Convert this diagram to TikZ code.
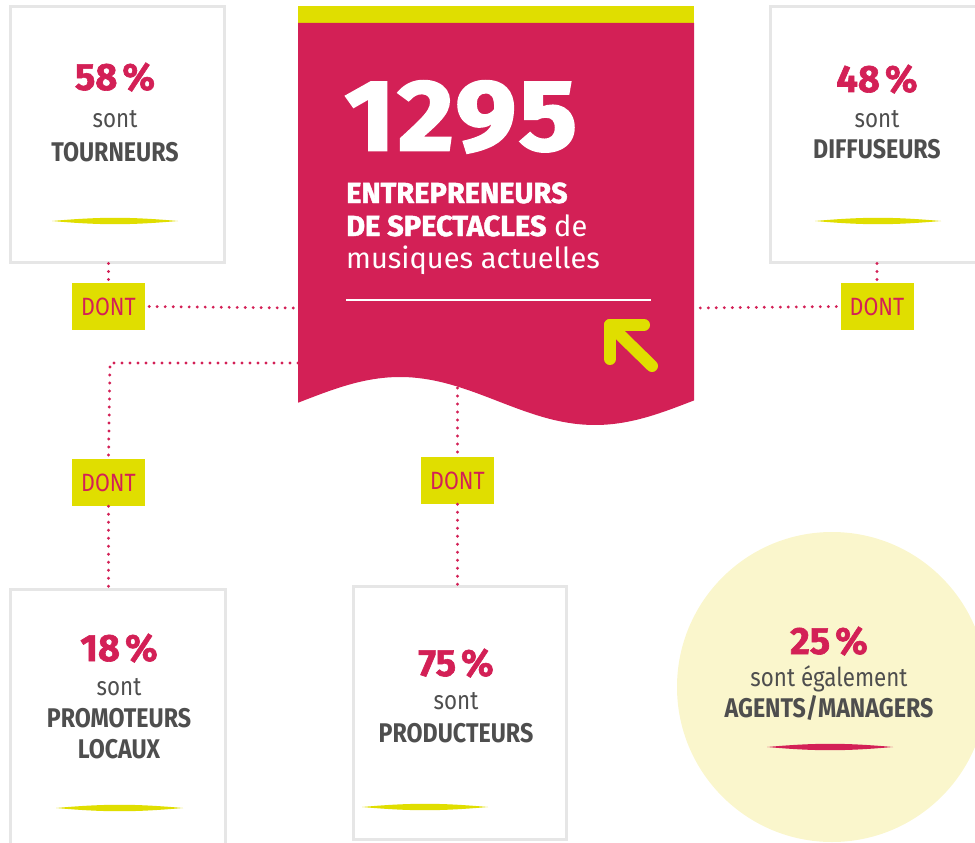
\documentclass[tikz,border=0pt]{standalone}
\usepackage{fontspec}
\setmainfont{Fira Sans}
\newfontfamily\condfont[FakeStretch=0.86]{Fira Sans}
\newfontfamily\heavyfont[FakeBold=1.6]{Fira Sans}
\newfontfamily\bigfont[FakeBold=2.5, FakeStretch=1.08, LetterSpace=3]{Fira Sans}
\usetikzlibrary{positioning}

\definecolor{rouge}{HTML}{D32056}
\definecolor{jaune}{HTML}{E0DE00}
\definecolor{creme}{HTML}{FAF6CC}
\definecolor{gris}{HTML}{4E4E4E}
\definecolor{cadre}{HTML}{E6E6E6}

\begin{document}
\begin{tikzpicture}[x=1pt,y=-1pt,
	statbox/.style={draw=cadre, line width=3pt, fill=white, inner sep=0pt},
	dontbox/.style={fill=jaune, text=rouge, inner sep=0pt, minimum width=73pt, minimum height=47pt,
		font=\condfont\fontsize{25}{25}\selectfont},
	dots/.style={rouge, line width=3.2pt, line cap=round, dash pattern=on 0pt off 8pt},
	pct/.style={anchor=base, text=rouge, font=\heavyfont\bfseries\fontsize{38}{38}\selectfont},
	sont/.style={anchor=base, text=gris, font=\condfont\fontsize{26}{26}\selectfont},
	metier/.style={anchor=base, text=gris, font=\condfont\bfseries\fontsize{27}{27}\selectfont},
	ent/.style={anchor=base west, text=white, inner sep=0pt, font=\fontsize{29}{29}\selectfont}]
	\useasboundingbox (0,0) rectangle (975,843);
	\clip (0,0) rectangle (975,843);

	\node[circle, fill=creme, minimum size=310pt] (agents) at (832,687) {};

	\node[statbox, minimum width=214pt, minimum height=255pt] (tourneurs) at (117,134.5) {};
	\node[statbox, minimum width=220pt, minimum height=255pt] (diffuseurs) at (880,134.5) {};
	\node[statbox, minimum width=215pt, minimum height=311pt] (promoteurs) at (117.5,744.5) {};
	\node[statbox, minimum width=213pt, minimum height=253pt] (producteurs) at (459.5,712.5) {};

	\fill[jaune] (298,6) rectangle (694,23);
	\fill[rouge] (298,23) -- (694,23) -- plot[domain=694:298, samples=80] (\x,{401-24*cos((\x-400)/195*180)}) -- cycle;
	\coordinate (banW) at (298,308);
	\coordinate (banE) at (694,308);
	\coordinate (banSW) at (298,363);
	\coordinate (banS) at (457.5,388);
	\coordinate (coin) at (110,363);

	\node[anchor=base, text=white, font=\bigfont\bfseries\fontsize{100}{100}\selectfont] (total) at (461,150) {1295};
	\node[ent] (ent1) at (346,203) {\heavyfont\bfseries ENTREPRENEURS};
	\node[ent] (ent2) at (346,236) {{\heavyfont\bfseries DE SPECTACLES} de};
	\node[ent] (ent3) at (346,268) {musiques actuelles};
	\draw[white, line width=2pt] (346,300) -- (651,300);
	\draw[jaune, line width=12pt, line cap=round, line join=round] (644,325) -- (610,325) -- (610,359);
	\draw[jaune, line width=12pt, line cap=round] (610,325) -- (652,366);

	\foreach \n/\x/\y in {dontA/108.5/306.5, dontB/877/306.5, dontC/108.5/482.5, dontD/457.5/480.5}
		\node[dontbox] (\n) at (\x,\y) {DONT};

	\draw[dots] (dontA.north |- tourneurs.south) -- (dontA.north);
	\draw[dots, shorten <=4pt, shorten >=4pt] (dontA.east) -- (banW);
	\draw[dots] (dontB.north |- diffuseurs.south) -- (dontB.north);
	\draw[dots, shorten <=4pt, shorten >=4pt] (dontB.west) -- (banE);
	\draw[dots] (banSW) -- (coin) -- (dontC.north);
	\draw[dots] (dontC.south) -- (dontC.south |- promoteurs.north);
	\draw[dots] (banS) -- (dontD.north);
	\draw[dots] (dontD.south) -- (dontD.south |- producteurs.north);

	\node[pct] at (115,90) {58\kern5pt\%};
	\node[sont] at (115,128) {sont};
	\node[metier] at (115,161) {TOURNEURS};
	\node[pct] at (877,92) {48\kern5pt\%};
	\node[sont] at (877,127) {sont};
	\node[metier] at (877,158) {DIFFUSEURS};
	\node[pct] at (119,661) {18\kern5pt\%};
	\node[sont] at (119,695) {sont};
	\node[metier] at (119,727) {PROMOTEURS};
	\node[metier] at (119,758) {LOCAUX};
	\node[pct] at (456,676) {75\kern5pt\%};
	\node[sont] at (456,709) {sont};
	\node[metier] at (456,742) {PRODUCTEURS};
	\node[pct] at (829,654) {25\kern5pt\%};
	\node[sont] at (829,686) {sont également};
	\node[metier] at (829,717) {AGENTS/MANAGERS};

	\foreach \a/\b/\y/\c in {52/178/221/jaune, 815/941/221/jaune, 56/183/808/jaune, 362/488/807/jaune, 767/893/747/rouge}
		\fill[\c] (\a,\y) to[bend left=5] (\b,\y) to[bend left=5] (\a,\y);
\end{tikzpicture}
\end{document}
